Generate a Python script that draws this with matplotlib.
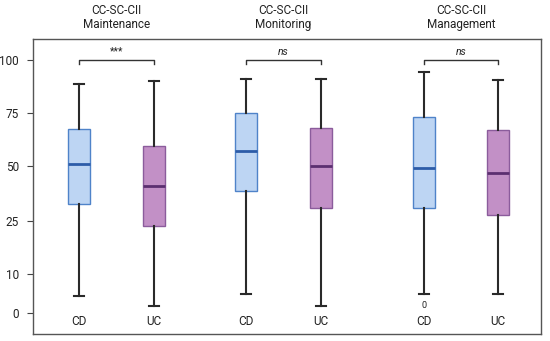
import numpy as np
import matplotlib.pyplot as plt

plt.rcParams["font.family"] = ["Roboto", "DejaVu Sans"]

# categories / groups
GROUPS = ["CC-SC-CII\nMaintenance", "CC-SC-CII\nMonitoring", "CC-SC-CII\nManagement"]
CONDS = ["CD", "UC"]
SIG = ["***", "ns", "ns"]

# box stats per group, [CD, UC]: whisker low, Q1, median, Q3, whisker high
WLO = [[4.4, 1.9], [4.9, 1.9], [4.9, 4.9]]
Q1 = [[32.9, 23.5], [38.8, 30.8], [31.0, 27.6]]
MED = [[51.0, 41.0], [57.0, 50.0], [49.3, 47.0]]
Q3 = [[67.5, 59.4], [75.0, 68.0], [73.0, 67.0]]
WHI = [[88.7, 90.0], [90.9, 90.9], [94.3, 90.6]]
OUTLIERS = [[[], []], [[], []], [[1.9], []]]

YTICKS = [0, 10, 25, 50, 75, 100]

# non-linear y scale (value -> pixel offset)
SCALE_V = np.array([-10, 0, 10, 25, 50, 75, 100, 120])
SCALE_P = np.array([-39, 0, 39, 92, 147, 200, 253, 295.4])


def fwd(v):
    return np.interp(v, SCALE_V, SCALE_P)


def inv(p):
    return np.interp(p, SCALE_P, SCALE_V)


pos = [[0.61, 1.61], [2.84, 3.84], [5.21, 6.20]]

face = {"CD": "#bdd5f3", "UC": "#c290c6"}
edge = {"CD": "#4f83c9", "UC": "#8b5c9c"}
medc = {"CD": "#2d5ca8", "UC": "#5b2f70"}

fig = plt.figure(figsize=(5.5, 3.41), dpi=100)
ax = fig.add_axes([0.06, 0.0205, 0.9236, 0.8651])
ax.set_yscale("function", functions=(fwd, inv))

for g in range(3):
    for c, cond in enumerate(CONDS):
        st = {"whislo": WLO[g][c], "q1": Q1[g][c], "med": MED[g][c],
              "q3": Q3[g][c], "whishi": WHI[g][c], "fliers": OUTLIERS[g][c]}
        ax.bxp([st], positions=[pos[g][c]], widths=0.29, capwidths=0.13,
               patch_artist=True, showfliers=False,
               boxprops=dict(facecolor=face[cond], edgecolor=edge[cond], linewidth=1.0),
               medianprops=dict(color=medc[cond], linewidth=2.0),
               whiskerprops=dict(color="#2a2a2a", linewidth=1.5),
               capprops=dict(color="#2a2a2a", linewidth=1.5))
        for o in OUTLIERS[g][c]:
            ax.text(pos[g][c], o, "0", ha="center", va="center", fontsize=6.5, color="#222222")
        ax.text(pos[g][c], -2.3, cond, ha="center", va="center", fontsize=8.5, color="#222222")

    # significance bracket
    x0, x1 = pos[g]
    ax.plot([x0, x0, x1, x1], [98.3, 100, 100, 98.3], color="#333333", lw=1.0)
    ax.text((x0 + x1) / 2, 101.5, SIG[g], ha="center", va="bottom", fontsize=7.5,
            style="italic" if SIG[g] == "ns" else "normal", color="#222222")

    # group title above the axes
    ax.annotate(GROUPS[g], xy=((x0 + x1) / 2, 1.0), xycoords=ax.get_xaxis_transform(),
                xytext=(0, 8), textcoords="offset pixels",
                ha="center", va="bottom", fontsize=8.5, color="#222222", linespacing=1.15)

ax.set_xlim(0, 6.77)
ax.set_ylim(-5.4, 109.9)
ax.set_xticks([])
ax.set_yticks(YTICKS)
ax.set_yticklabels([str(t) for t in YTICKS])
ax.yaxis.set_minor_locator(plt.NullLocator())
ax.tick_params(axis="y", length=4, width=0.8, color="#444444", labelsize=8.5,
               labelcolor="#222222", pad=6)
for s in ax.spines.values():
    s.set_color("#555555")
    s.set_linewidth(1.0)

fig.savefig("out.png", dpi=100)
